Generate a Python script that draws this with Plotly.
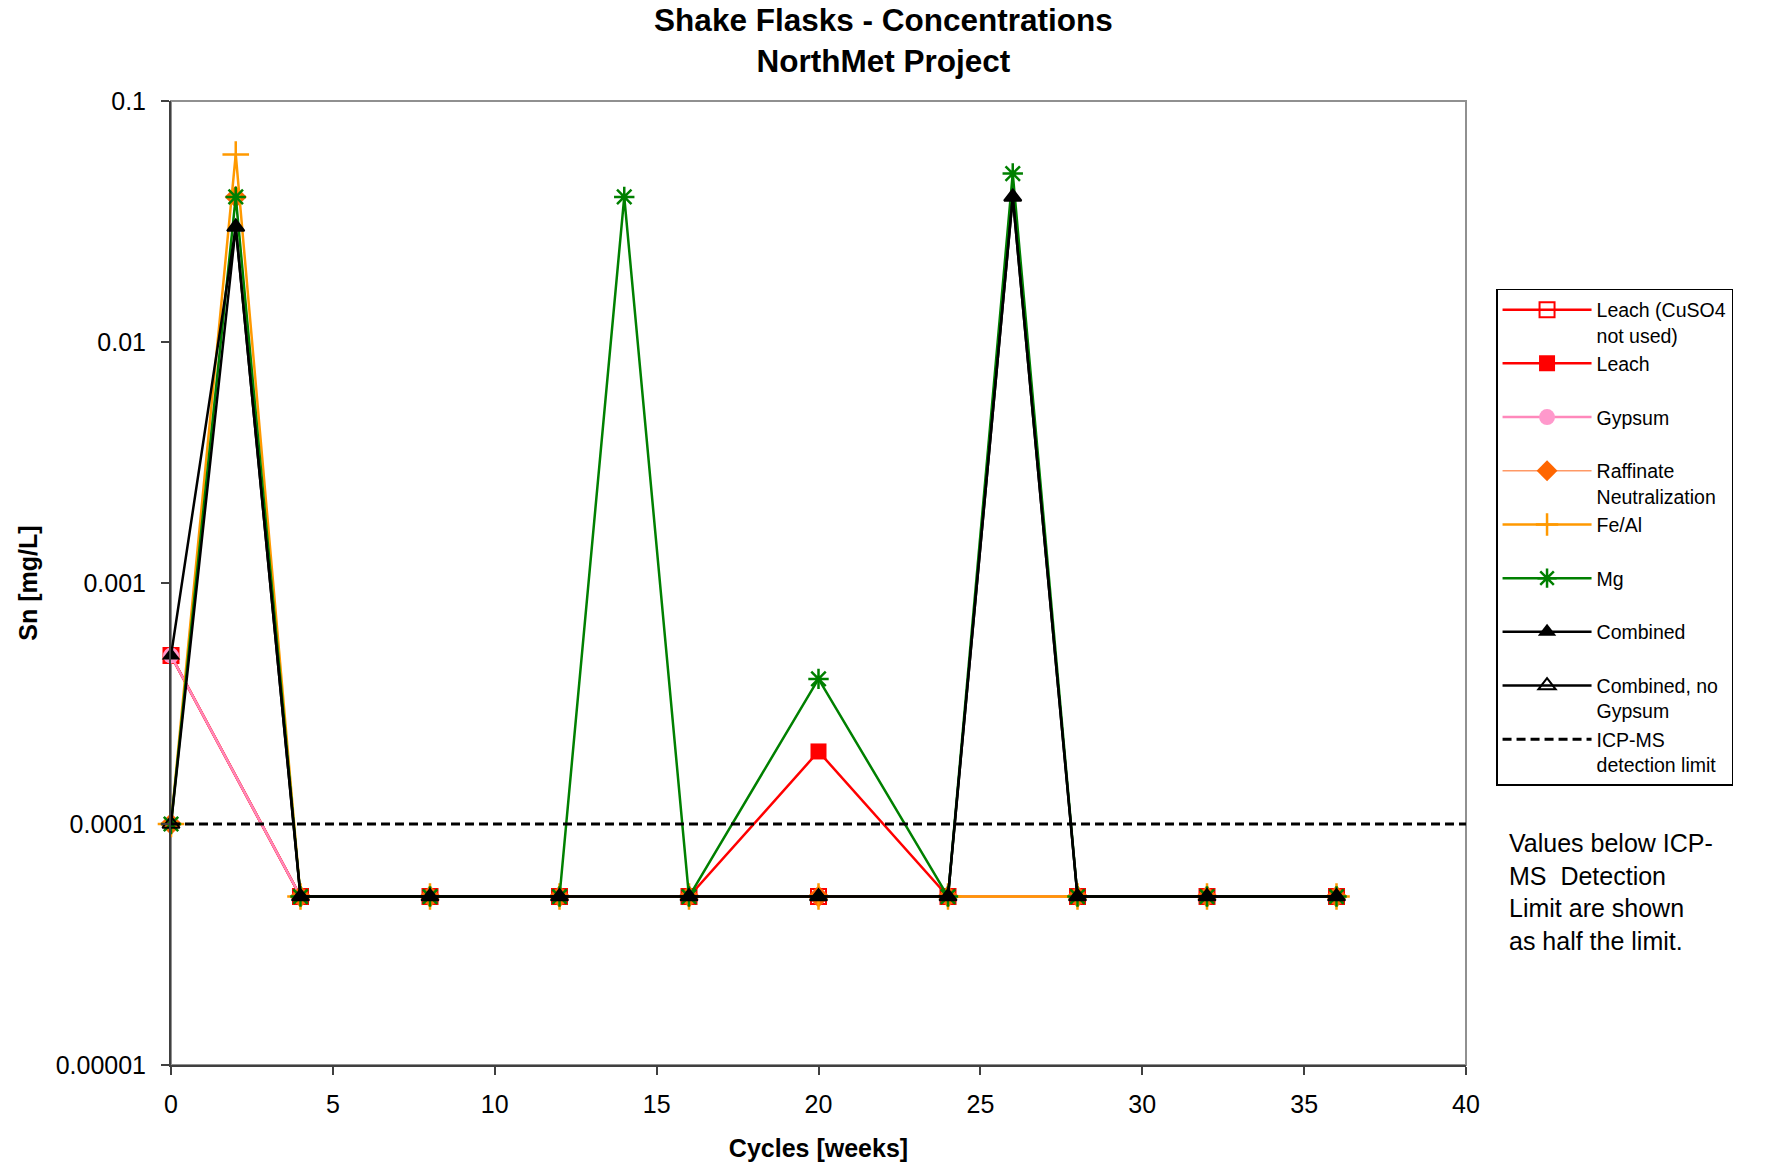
import plotly.graph_objects as go

# ---- data ----
x_base = [0, 4, 8, 12, 16, 20, 24, 28, 32, 36]
leach_nocuso4_y = [0.0005, 0.00005, 0.00005, 0.00005, 0.00005, 0.00005, 0.00005, 0.00005, 0.00005, 0.00005]
leach_y = [0.0005, 0.00005, 0.00005, 0.00005, 0.00005, 0.0002, 0.00005, 0.00005, 0.00005, 0.00005]
gypsum_y = [0.0005, 0.00005, 0.00005, 0.00005, 0.00005, 0.00005, 0.00005, 0.00005, 0.00005, 0.00005]

x_raff = [0, 2, 4, 8, 12, 16, 20, 24, 28, 32, 36]
raffinate_y = [0.0001, 0.04, 0.00005, 0.00005, 0.00005, 0.00005, 0.00005, 0.00005, 0.00005, 0.00005, 0.00005]
feal_y = [0.0001, 0.06, 0.00005, 0.00005, 0.00005, 0.00005, 0.00005, 0.00005, 0.00005, 0.00005, 0.00005]

x_mg = [0, 2, 4, 8, 12, 14, 16, 20, 24, 26, 28, 32, 36]
mg_y = [0.0001, 0.04, 0.00005, 0.00005, 0.00005, 0.04, 0.00005, 0.0004, 0.00005, 0.05, 0.00005, 0.00005, 0.00005]

x_comb = [0, 2, 4, 8, 12, 16, 20, 24, 26, 28, 32, 36]
combined_y = [0.0005, 0.03, 0.00005, 0.00005, 0.00005, 0.00005, 0.00005, 0.00005, 0.04, 0.00005, 0.00005, 0.00005]
combined_nogyp_y = [0.0001, 0.03, 0.00005, 0.00005, 0.00005, 0.00005, 0.00005, 0.00005, 0.04, 0.00005, 0.00005, 0.00005]

x_limit = [0, 40]
limit_y = [0.0001, 0.0001]

y_tickvals = [0.00001, 0.0001, 0.001, 0.01, 0.1]
y_ticktext = ["0.00001", "0.0001", "0.001", "0.01", "0.1"]
x_tickvals = [0, 5, 10, 15, 20, 25, 30, 35, 40]

FONT = "Liberation Sans, Arial, sans-serif"
PAD = "<br>&nbsp;"

fig = go.Figure()


def add(x, y, name, color, symbol, lw=2.5, msize=15, lcolor=None, mlw=0):
    fig.add_trace(go.Scatter(
        x=x, y=y, name=name, mode="lines+markers",
        line=dict(color=lcolor or color, width=lw),
        marker=dict(symbol=symbol, size=msize, color=color,
                    line=dict(color=color, width=mlw)),
        cliponaxis=False,
    ))


add(x_base, leach_nocuso4_y, "Leach (CuSO4<br>not used)", "#FF0000", "square-open", msize=15, mlw=2)
add(x_base, leach_y, "Leach" + PAD, "#FF0000", "square", msize=16)
add(x_base, gypsum_y, "Gypsum" + PAD, "#FF99CC", "circle", msize=16, lcolor="#FF88BB")
add(x_raff, raffinate_y, "Raffinate<br>Neutralization", "#FF6600", "diamond", lw=1.5, msize=17, lcolor="#FF9966")
add(x_raff, feal_y, "Fe/Al" + PAD, "#FF9900", "cross-thin-open", msize=19, mlw=2.5)
add(x_mg, mg_y, "Mg" + PAD, "#008000", "asterisk-open", msize=17, mlw=2.5)
add(x_comb, combined_y, "Combined" + PAD, "#000000", "triangle-up", msize=16)
add(x_comb, combined_nogyp_y, "Combined, no<br>Gypsum", "#000000", "triangle-up-open", msize=15, mlw=2)

fig.add_trace(go.Scatter(
    x=x_limit, y=limit_y, name="ICP-MS<br>detection limit", mode="lines",
    line=dict(color="#000000", width=3, dash="9px,5px"),
))

fig.update_layout(
    width=1774, height=1165,
    paper_bgcolor="white", plot_bgcolor="white",
    font=dict(family=FONT, size=25, color="black"),
    margin=dict(l=171, r=308, t=101, b=100, autoexpand=False),
    title=dict(
        text="<b>Shake Flasks - Concentrations<br>NorthMet Project</b>",
        x=0.498, xref="container", xanchor="center",
        y=0.973, yref="container", yanchor="top",
        font=dict(family=FONT, size=31.5, color="black"),
    ),
    xaxis=dict(
        range=[0, 40], tickvals=x_tickvals, ticks="outside", ticklen=8,
        tickcolor="#404040", tickwidth=2, ticklabelstandoff=8,
        showgrid=False, zeroline=False,
        showline=True, linecolor="#404040", linewidth=2,
        title=dict(text="<b>Cycles [weeks]</b>", font=dict(size=25), standoff=22),
        tickfont=dict(size=25),
    ),
    yaxis=dict(
        type="log", range=[-5, -1], tickvals=y_tickvals, ticktext=y_ticktext,
        ticks="outside", ticklen=8, tickcolor="#404040", tickwidth=2, ticklabelstandoff=10,
        showgrid=False, zeroline=False,
        showline=True, linecolor="#404040", linewidth=2,
        title=dict(text="<b>Sn [mg/L]</b>", font=dict(size=25), standoff=11),
        tickfont=dict(size=25),
    ),
    legend=dict(
        x=1.0232, y=0.805, xanchor="left", yanchor="top",
        bordercolor="#000000", borderwidth=1.5, bgcolor="white",
        font=dict(size=19.5), valign="top", itemwidth=89,
        tracegroupgap=0,
    ),
    showlegend=True,
)

# plot frame (top/right edges in light gray)
fig.add_shape(type="rect", xref="paper", yref="paper", x0=0, y0=0, x1=1, y1=1,
              line=dict(color="#909090", width=2), layer="below")

fig.add_annotation(
    text="Values below ICP-<br>MS  Detection<br>Limit are shown<br>as half the limit.",
    xref="paper", yref="paper", x=1.0317, y=0.247, xanchor="left", yanchor="top",
    align="left", showarrow=False, font=dict(size=25, color="black"),
)

fig.write_html("out.html", config={"displayModeBar": False},
               post_script="document.body.style.margin='0px';")
